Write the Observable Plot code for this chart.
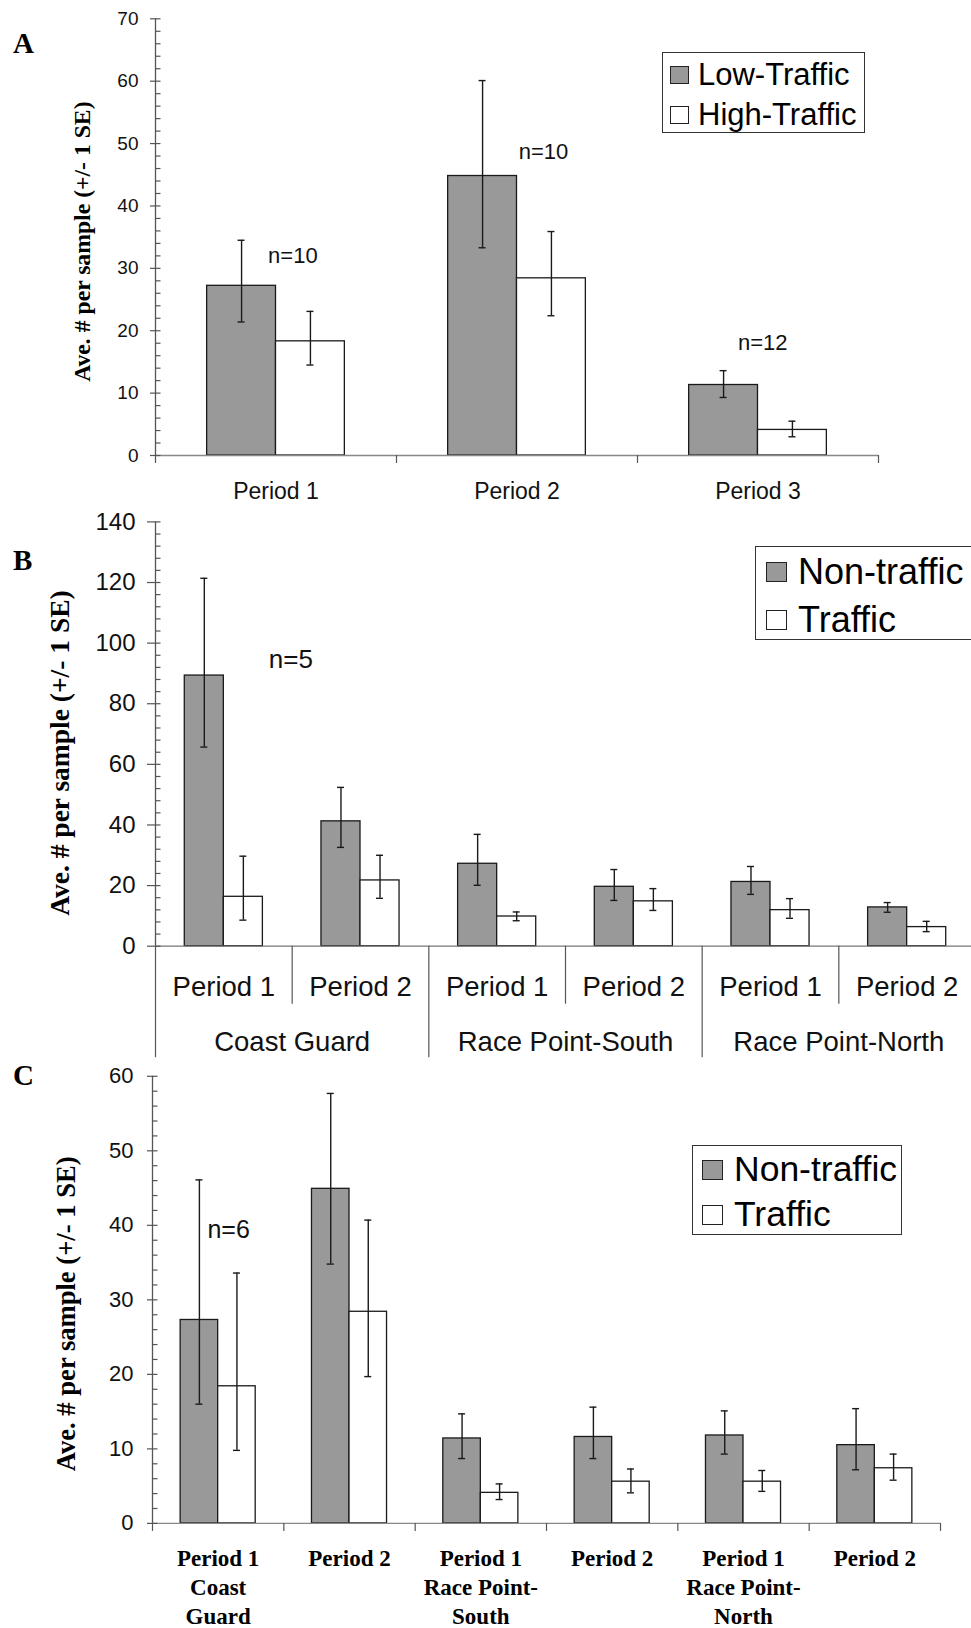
<!DOCTYPE html>
<html><head><meta charset="utf-8">
<script src="https://cdn.jsdelivr.net/npm/d3@7"></script>
<script src="https://cdn.jsdelivr.net/npm/@observablehq/plot@0.6"></script>
<style>
body{margin:0;background:#fff;}
#wrap{position:relative;width:971px;height:1628px;overflow:hidden;background:#fff;}
.letter{position:absolute;left:13px;font-family:"Liberation Serif";font-weight:bold;line-height:1;}
.legend{position:absolute;border:1.3px solid #333;background:#fff;font-family:"Liberation Sans";color:#000;box-sizing:border-box;}
.legend .row{position:absolute;left:0;display:flex;align-items:center;white-space:nowrap;}
.legend .sw{border:1.3px solid #222;box-sizing:border-box;}
</style></head><body><div id="wrap"></div>
<script>
// ---------- DATA ----------
// Panel A
const catsA = ["Period 1", "Period 2", "Period 3"];
const seriesA = ["Low-Traffic", "High-Traffic"];
const lowA = [27.2, 44.8, 11.3];
const lowLoA = [21.4, 33.3, 9.3];
const lowHiA = [34.5, 60.1, 13.6];
const highA = [18.3, 28.4, 4.1];
const highLoA = [14.5, 22.4, 3.0];
const highHiA = [23.1, 35.9, 5.5];
const nTextA = ["n=10", "n=10", "n=12"];
const nXA = [0.57, 1.61, 2.52];
const nYA = [32, 48.7, 18];

// Panel B
const groupsB = ["Coast Guard", "Race Point-South", "Race Point-North"];
const periodsB = ["Period 1", "Period 2", "Period 1", "Period 2", "Period 1", "Period 2"];
const seriesB = ["Non-traffic", "Traffic"];
const nonB = [89.3, 41.2, 27.2, 19.6, 21.2, 12.8];
const nonLoB = [65.7, 32.6, 20.1, 15.1, 17.1, 11.2];
const nonHiB = [121.4, 52.4, 36.9, 25.3, 26.3, 14.4];
const trB = [16.3, 21.7, 9.8, 14.8, 11.9, 6.3];
const trLoB = [8.6, 15.8, 8.4, 11.8, 9.2, 4.8];
const trHiB = [29.7, 30.0, 11.3, 19.0, 15.7, 8.2];
const nTextB = ["n=5"];
const nXB = [0.99];
const nYB = [94.6];

// Panel C
const catsC = ["Period 1\nCoast\nGuard", "Period 2", "Period 1\nRace Point-\nSouth", "Period 2", "Period 1\nRace Point-\nNorth", "Period 2"];
const seriesC = ["Non-traffic", "Traffic"];
const nonC = [27.3, 44.9, 11.4, 11.6, 11.8, 10.5];
const nonLoC = [16.0, 34.8, 8.7, 8.7, 9.3, 7.2];
const nonHiC = [46.1, 57.7, 14.7, 15.6, 15.1, 15.4];
const trC = [18.4, 28.4, 4.1, 5.6, 5.6, 7.4];
const trLoC = [9.8, 19.7, 3.2, 4.1, 4.3, 5.8];
const trHiC = [33.6, 40.7, 5.3, 7.3, 7.1, 9.3];
const nTextC = ["n=6"];
const nXC = [0.58];
const nYC = [39.4];

const yTitle = "Ave. # per sample (+/- 1 SE)";
const fills = ["#999999", "#ffffff"];

// ---------- HELPERS ----------
const INK = "#1a1a1a", AXIS = "#555";
function barRows(n, series, vals, los, his) {
  const inner = d3.scaleBand().domain(series).range([0, 1]).paddingInner(0).paddingOuter(0.75);
  const out = [];
  for (let i = 0; i < n; i++) series.forEach((s, j) => {
    const x1 = i + inner(s);
    out.push({series: s, value: vals[j][i], lo: los[j][i], hi: his[j][i],
      x1, x2: x1 + inner.bandwidth(), xc: x1 + inner.bandwidth() / 2});
  });
  return out;
}
function yAxis(yMax, majorStep, minorStep, fontSize, dx, outLen) {
  const majors = d3.range(0, yMax + 1e-9, majorStep);
  const minors = d3.range(0, yMax + 1e-9, minorStep).filter(v => Math.abs(v / majorStep - Math.round(v / majorStep)) > 1e-6);
  return [
    Plot.ruleY(majors, {y: d => d, x1: () => 0, x2: () => 0, insetLeft: -outLen, insetRight: -5.5, stroke: AXIS, strokeWidth: 1.2}),
    Plot.ruleY(minors, {y: d => d, x1: () => 0, x2: () => 0, insetLeft: 0, insetRight: -5.5, stroke: AXIS, strokeWidth: 1.2}),
    Plot.ruleX([0], {stroke: AXIS, strokeWidth: 1.3}),
    Plot.text(majors, {x: () => 0, y: d => d, text: d => String(d), textAnchor: "end", lineAnchor: "middle", dx, fontSize, fill: "#111"})
  ];
}
function barMarks(rows, capHalf) {
  return [
    Plot.rectY(rows, {x1: "x1", x2: "x2", y1: () => 0, y2: "value", fill: "series", stroke: INK, strokeWidth: 1.3}),
    Plot.ruleX(rows, {x: "xc", y1: "lo", y2: "hi", stroke: INK, strokeWidth: 1.4}),
    Plot.ruleY(rows, {y: "lo", x1: "xc", x2: "xc", insetLeft: -capHalf, insetRight: -capHalf, stroke: INK, strokeWidth: 1.4}),
    Plot.ruleY(rows, {y: "hi", x1: "xc", x2: "xc", insetLeft: -capHalf, insetRight: -capHalf, stroke: INK, strokeWidth: 1.4})
  ];
}
function titleMark(fontSize, dx, dy) {
  return Plot.text([yTitle], {frameAnchor: "left", text: d => d, rotate: -90, textAnchor: "middle", lineAnchor: "middle",
    dx, dy, fontFamily: "Liberation Serif", fontWeight: "bold", fontSize, fill: "#000"});
}
function place(svg, top) {
  svg.style.position = "absolute"; svg.style.left = "0px"; svg.style.top = top + "px";
  svg.style.overflow = "visible"; svg.style.background = "transparent";
  document.getElementById("wrap").appendChild(svg);
}
function legend(series, left, top, width, height, padTop, rowH, swW, swH, swLeft, textLeft, fontSize) {
  const box = document.createElement("div");
  box.className = "legend";
  Object.assign(box.style, {left: left + "px", top: top + "px", width: width + "px", height: height + "px"});
  series.forEach((s, i) => {
    const row = document.createElement("div");
    row.className = "row";
    Object.assign(row.style, {top: (padTop + i * rowH) + "px", height: rowH + "px", fontSize: fontSize + "px"});
    const sw = document.createElement("div");
    sw.className = "sw";
    Object.assign(sw.style, {width: swW + "px", height: swH + "px", background: fills[i], marginLeft: swLeft + "px", marginRight: (textLeft - swLeft - swW) + "px"});
    const t = document.createElement("span");
    t.textContent = s;
    row.appendChild(sw); row.appendChild(t);
    box.appendChild(row);
  });
  document.getElementById("wrap").appendChild(box);
}
function letter(txt, top, size) {
  const d = document.createElement("div");
  d.className = "letter"; d.textContent = txt;
  Object.assign(d.style, {top: top + "px", fontSize: size + "px"});
  document.getElementById("wrap").appendChild(d);
}
const baseStyle = {fontFamily: "Liberation Sans", background: "transparent", overflow: "visible", color: "#111"};

// ---------- PANEL A ----------
const rowsA = barRows(catsA.length, seriesA, [lowA, highA], [lowLoA, highLoA], [lowHiA, highHiA]);
const plotA = Plot.plot({
  width: 971, height: 510, marginLeft: 155, marginRight: 93, marginTop: 18.3, marginBottom: 55,
  x: {domain: [0, catsA.length], axis: null},
  y: {domain: [0, 70], axis: null},
  color: {domain: seriesA, range: fills},
  style: baseStyle,
  marks: [
    ...barMarks(rowsA, 3.5),
    Plot.ruleY([0], {stroke: "#888", strokeWidth: 1.3}),
    ...yAxis(70, 10, 2, 19, -17, 5),
    Plot.ruleX(d3.range(0, catsA.length + 1), {x: d => d, y1: () => 0, y2: () => 0, insetBottom: -8, stroke: AXIS, strokeWidth: 1.2}),
    Plot.text(catsA, {x: (d, i) => i + 0.5, frameAnchor: "bottom", text: d => d, dy: 36, lineAnchor: "middle", textAnchor: "middle", fontSize: 23, fill: "#111"}),
    Plot.text(nTextA, {x: (d, i) => nXA[i], y: (d, i) => nYA[i], text: d => d, fontSize: 22, fill: "#111"}),
    titleMark(23.7, -73, 4.5)
  ]
});
place(plotA, 0);
legend(seriesA, 662, 52, 203, 81, 1.5, 40, 19, 18, 7, 35, 31);
letter("A", 29, 29);

// ---------- PANEL B ----------
const rowsB = barRows(periodsB.length, seriesB, [nonB, trB], [nonLoB, trLoB], [nonHiB, trHiB]);
const plotB = Plot.plot({
  width: 971, height: 560, marginLeft: 155, marginRight: -4, marginTop: 21.4, marginBottom: 114.3,
  x: {domain: [0, periodsB.length], axis: null},
  y: {domain: [0, 140], axis: null},
  color: {domain: seriesB, range: fills},
  style: baseStyle,
  marks: [
    ...barMarks(rowsB, 3.5),
    Plot.ruleY([0], {stroke: "#777", strokeWidth: 1.3}),
    ...yAxis(140, 20, 4, 24, -20, 8),
    Plot.ruleX(d3.range(1, periodsB.length, 2), {x: d => d, y1: () => 0, y2: () => 0, insetBottom: -58, stroke: AXIS, strokeWidth: 1.2}),
    Plot.ruleX(d3.range(0, periodsB.length + 1, 2), {x: d => d, y1: () => 0, y2: () => 0, insetBottom: -111.5, stroke: AXIS, strokeWidth: 1.2}),
    Plot.text(periodsB, {x: (d, i) => i + 0.5, frameAnchor: "bottom", text: d => d, dy: 40.5, lineAnchor: "middle", textAnchor: "middle", fontSize: 27.5, fill: "#111"}),
    Plot.text(groupsB, {x: (d, i) => 2 * i + 1, frameAnchor: "bottom", text: d => d, dy: 95.5, lineAnchor: "middle", textAnchor: "middle", fontSize: 27.5, fill: "#111"}),
    Plot.text(nTextB, {x: (d, i) => nXB[i], y: (d, i) => nYB[i], text: d => d, fontSize: 26, fill: "#111"}),
    titleMark(27.5, -95, 19)
  ]
});
place(plotB, 500);
legend(seriesB, 755, 546.4, 230, 94, 1, 48, 21, 20, 10, 42, 36);
letter("B", 546, 29);

// ---------- PANEL C ----------
const rowsC = barRows(catsC.length, seriesC, [nonC, trC], [nonLoC, trLoC], [nonHiC, trHiC]);
const plotC = Plot.plot({
  width: 971, height: 578, marginLeft: 152, marginRight: 31, marginTop: 25.8, marginBottom: 105.1,
  x: {domain: [0, catsC.length], axis: null},
  y: {domain: [0, 60], axis: null},
  color: {domain: seriesC, range: fills},
  style: baseStyle,
  marks: [
    ...barMarks(rowsC, 3.5),
    Plot.ruleY([0], {stroke: "#888", strokeWidth: 1.3}),
    ...yAxis(60, 10, 2, 22, -19, 5),
    Plot.ruleX(d3.range(0, catsC.length + 1), {x: d => d, y1: () => 0, y2: () => 0, insetBottom: -8, stroke: AXIS, strokeWidth: 1.2}),
    Plot.text(catsC, {x: (d, i) => i + 0.5, frameAnchor: "bottom", text: d => d, dy: 22, lineAnchor: "top", lineHeight: 1.26, textAnchor: "middle",
      fontFamily: "Liberation Serif", fontWeight: "bold", fontSize: 23, fill: "#000"}),
    Plot.text(nTextC, {x: (d, i) => nXC[i], y: (d, i) => nYC[i], text: d => d, fontSize: 25, fill: "#111"}),
    titleMark(26.6, -86, 14)
  ]
});
place(plotC, 1050);
legend(seriesC, 692, 1144.7, 210, 90, 1.5, 45, 21, 20, 9, 41, 35.5);
letter("C", 1061, 29);
</script></body></html>
